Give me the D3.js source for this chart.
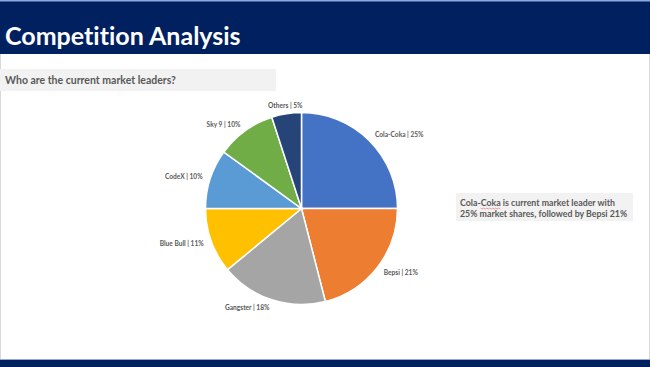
<!DOCTYPE html>
<html><head><meta charset="utf-8">
<script src="https://cdn.jsdelivr.net/npm/d3@7"></script>
<style>html,body{margin:0;padding:0;background:#fff;overflow:hidden}svg{display:block}text{font-variant-ligatures:none;font-feature-settings:"liga" 0}</style>
</head><body>
<svg id="c" width="650" height="367"></svg>
<script>
const categories = ["Cola-Coka","Bepsi","Gangster","Blue Bull","CodeX","Sky 9","Others"];
const shares = [25,21,18,11,10,10,5];
const colors = ["#4472C4","#ED7D31","#A5A5A5","#FFC000","#5B9BD5","#70AD47","#264478"];
const title = "Competition Analysis";
const subtitle = "Who are the current market leaders?";
const noteLines = ["Cola-Coka is current market leader with","25% market shares, followed by Bepsi 21%"];

const W=650,H=367;
const svg=d3.select("#c");
const font="Lato, 'Open Sans', sans-serif";
svg.append("rect").attr("x",0.5).attr("y",0.5).attr("width",W-1).attr("height",H-1).attr("fill","#fff").attr("stroke","#d9d9d9");
// header
svg.append("rect").attr("x",0).attr("y",0).attr("width",W).attr("height",54).attr("fill","#002060");
svg.append("rect").attr("x",0).attr("y",0).attr("width",W).attr("height",1.5).attr("fill","#8ea9db");
svg.append("text").attr("x",5).attr("y",45).attr("fill","#fff").attr("font-family",font)
  .attr("font-weight","bold").attr("font-size",25).text(title);
// subtitle
svg.append("rect").attr("x",0).attr("y",69).attr("width",276).attr("height",22).attr("fill","#f2f2f2");
svg.append("text").attr("x",5).attr("y",84).attr("fill","#595959").attr("font-family",font)
  .attr("font-weight","bold").attr("font-size",10.5).text(subtitle);
// bottom bar
svg.append("rect").attr("x",0).attr("y",359).attr("width",W).attr("height",8).attr("fill","#002060");
svg.append("rect").attr("x",0).attr("y",359).attr("width",W).attr("height",1).attr("fill","#8ea9db");

// pie
const cx=301.5,cy=208.5,r=96;
const pie=d3.pie().sort(null).value(d=>d)(shares);
const arc=d3.arc().innerRadius(0).outerRadius(r);
const g=svg.append("g").attr("transform",`translate(${cx},${cy})`);
g.selectAll("path").data(pie).join("path").attr("d",arc)
  .attr("fill",(d,i)=>colors[i]).attr("stroke","#fff").attr("stroke-width",1.5);
// labels
g.selectAll("text.lbl").data(pie).join("text").attr("class","lbl")
  .each(function(d,i){
    const a=(d.startAngle+d.endAngle)/2;
    const lr=r+8;
    const s=Math.sin(a), c=-Math.cos(a);
    let x=lr*s, y=lr*c;
    const anchor = Math.abs(s)<0.2 ? "middle" : (s>0?"start":"end");
    d3.select(this).attr("x",x).attr("y",y).attr("dy","0.35em").attr("text-anchor",anchor);
  })
  .attr("font-family",font).attr("font-size",6.6).attr("font-weight","bold").attr("fill","#595959")
  .text((d,i)=>`${categories[i]} | ${shares[i]}%`);

// note box
svg.append("rect").attr("x",456).attr("y",193).attr("width",177).attr("height",28).attr("fill","#f2f2f2");
noteLines.forEach((t,i)=>{
  const tx=svg.append("text").attr("x",460).attr("y",205.5+i*11).attr("fill","#595959").attr("font-family",font)
    .attr("font-weight","bold").attr("font-size",8.8).text(t);
  if(i===0){
    const node=tx.node();
    const x0=460+node.getSubStringLength(0,5), x1=460+node.getSubStringLength(0,9);
    let p=`M${x0},${208}`;
    for(let x=x0+1.5, k=0; x<=x1; x+=1.5, k++) p+=`L${x},${k%2===0?209:208}`;
    svg.append("path").attr("d",p).attr("fill","none").attr("stroke","#e06060").attr("stroke-width",0.6);
  }
});
</script>
</body></html>
